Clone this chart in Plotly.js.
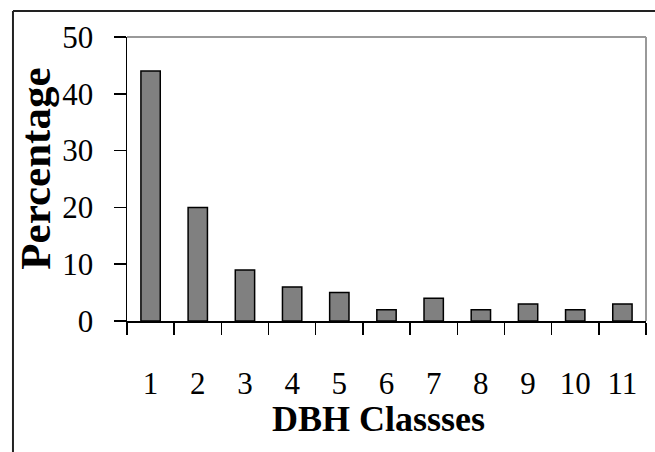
<!DOCTYPE html>
<html>
<head>
<meta charset="utf-8">
<script src="https://cdn.plot.ly/plotly-3.0.1.min.js"></script>
<style>html,body{margin:0;padding:0;background:#fff;}#chart{width:655px;height:452px;}</style>
</head>
<body>
<div id="chart"></div>
<script>
var categories = ["1","2","3","4","5","6","7","8","9","10","11"];
var percentages = [44, 20, 9, 6, 5, 2, 4, 2, 3, 2, 3];
var yTicks = [0, 10, 20, 30, 40, 50];
var xTitle = "DBH Classses";
var yTitle = "Percentage";

var trace = {
  type: "bar",
  x: categories,
  y: percentages,
  marker: {color: "#808080", line: {color: "#000000", width: 1.5}},
  hoverinfo: "none"
};

var fontFamily = "Liberation Serif, Times New Roman, serif";

var layout = {
  width: 655, height: 452,
  margin: {l: 127, r: 9, t: 37, b: 131},
  paper_bgcolor: "#ffffff",
  plot_bgcolor: "#ffffff",
  showlegend: false,
  bargap: 0.59,
  font: {family: fontFamily, color: "#000"},
  xaxis: {
    type: "category",
    tickmode: "array",
    tickvals: categories,
    ticktext: categories,
    tickson: "boundaries",
    ticks: "outside",
    ticklen: 12,
    tickwidth: 1.5,
    tickcolor: "#000",
    showline: true,
    linecolor: "#000",
    linewidth: 1.5,
    showgrid: false,
    zeroline: false,
    ticklabelstandoff: 34,
    tickfont: {family: fontFamily, size: 31, color: "#000"}
  },
  yaxis: {
    range: [0, 50],
    tickmode: "array",
    tickvals: yTicks,
    ticks: "outside",
    ticklen: 12,
    tickwidth: 1.5,
    tickcolor: "#000",
    showline: true,
    linecolor: "#000",
    linewidth: 1.5,
    showgrid: false,
    zeroline: false,
    ticklabelstandoff: 14,
    tickfont: {family: fontFamily, size: 31, color: "#000"}
  },
  annotations: [
    {text: "<b>" + xTitle + "</b>", xref: "paper", yref: "paper", x: 0.484, y: -0.345,
     xanchor: "center", yanchor: "middle", showarrow: false,
     font: {family: fontFamily, size: 36, color: "#000"}},
    {text: "<b>" + yTitle + "</b>", xref: "paper", yref: "paper", x: -0.178, y: 0.535,
     xanchor: "center", yanchor: "middle", showarrow: false, textangle: -90,
     font: {family: fontFamily, size: 43, color: "#000"}}
  ],
  shapes: [
    {type: "line", xref: "paper", yref: "paper", x0: 0, x1: 1, y0: 1, y1: 1, line: {color: "#999999", width: 2}, layer: "below"},
    {type: "line", xref: "paper", yref: "paper", x0: 1, x1: 1, y0: 0, y1: 1, line: {color: "#999999", width: 2}, layer: "below"},
    {type: "line", xref: "paper", yref: "paper", x0: -0.2197, x1: 1.1, y0: 1.0915, y1: 1.0915, line: {color: "#222222", width: 2}},
    {type: "line", xref: "paper", yref: "paper", x0: -0.2197, x1: -0.2197, y0: -0.5, y1: 1.0915, line: {color: "#222222", width: 2}}
  ]
};

Plotly.newPlot("chart", [trace], layout, {displayModeBar: false, staticPlot: true});
</script>
</body>
</html>
